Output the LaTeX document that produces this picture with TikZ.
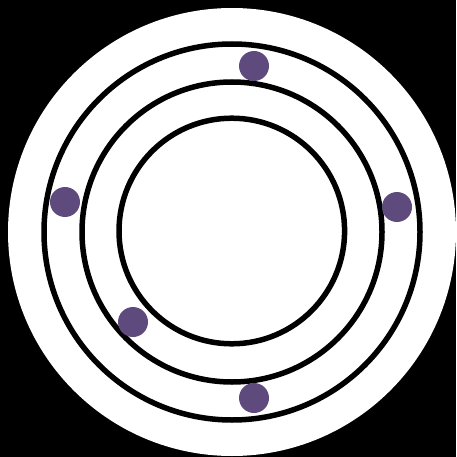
\documentclass[tikz,border=0pt]{standalone}
\definecolor{dotpurple}{HTML}{5E4A7C}
\begin{document}
\begin{tikzpicture}[x=1pt,y=-1pt,
  ring/.style={draw=black,line width=5.5pt},
  dot/.style={circle,fill=dotpurple,inner sep=0pt,minimum size=30pt}]
\fill[black] (0,0) rectangle (456,457);
\useasboundingbox (0,0) rectangle (456,457);
\coordinate (c) at (232,232);
\fill[white] (c) circle (224);
\draw[ring] (c) circle (188);
\draw[ring] (c) circle (150);
\draw[ring] (231.8,231) circle (112.8);
\node[dot] (d1) at (254,66) {};
\node[dot] (d2) at (65,202) {};
\node[dot] (d3) at (397,207) {};
\node[dot] (d4) at (133,322) {};
\node[dot] (d5) at (254,398) {};
\end{tikzpicture}
\end{document}
